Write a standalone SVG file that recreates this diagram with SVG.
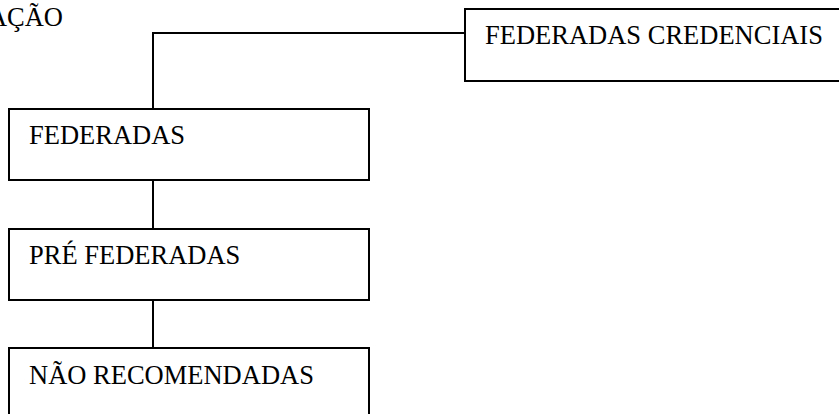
<svg xmlns="http://www.w3.org/2000/svg" width="839" height="414" viewBox="0 0 839 414">
<style>
.box{fill:#fff;stroke:#000;stroke-width:2}
.lbl{font-family:"Liberation Serif","Times New Roman",serif;font-size:26.5px;fill:#000}
.con{fill:none;stroke:#000;stroke-width:2}
</style>
<rect width="839" height="414" fill="#fff"/>
<text class="lbl" x="63" y="26" text-anchor="end">AÇÃO</text>
<g id="connectors">
<polyline class="con" points="465,33 153,33 153,109"/>
<line class="con" x1="153" y1="180" x2="153" y2="229"/>
<line class="con" x1="153" y1="300" x2="153" y2="348"/>
</g>
<g id="node-credenciais">
<rect class="box" x="465" y="9" width="380" height="72"/>
<text class="lbl" x="485" y="44">FEDERADAS CREDENCIAIS</text>
</g>
<g id="node-federadas">
<rect class="box" x="9" y="109" width="360" height="71"/>
<text class="lbl" x="29" y="144">FEDERADAS</text>
</g>
<g id="node-pre-federadas">
<rect class="box" x="9" y="229" width="360" height="71"/>
<text class="lbl" x="29" y="264">PRÉ FEDERADAS</text>
</g>
<g id="node-nao-recomendadas">
<rect class="box" x="9" y="348" width="360" height="80"/>
<text class="lbl" x="29" y="384">NÃO RECOMENDADAS</text>
</g>
</svg>
